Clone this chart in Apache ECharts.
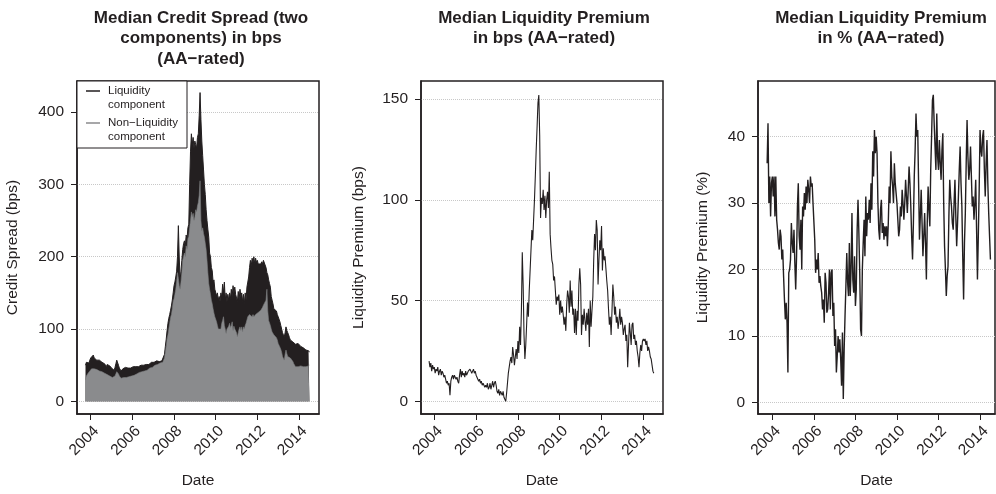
<!DOCTYPE html>
<html><head><meta charset="utf-8">
<script src="https://cdn.jsdelivr.net/npm/echarts@6/dist/echarts.min.js"></script>
<style>html,body{margin:0;padding:0;background:#fff;}#c{width:996px;height:494px;}</style>
</head><body><div id="c"></div><script>
// Observations: every half month, first one on 1 Oct 2003, last on 1 Jul 2014
const startYear = 2003, startMonth = 10;

// Panel 1: total median credit spread (top of black area) and non-liquidity component (grey), bps
const creditSpreadTotal = [
 50, 54, 52, 55, 53, 57,
 60, 58, 62, 64, 60, 58, 59, 57, 58, 55, 57, 56, 55, 54, 56, 53, 52, 50, 48, 51, 50, 52, 49, 47,
 46, 44, 45, 43, 47, 52, 57, 56, 50, 46, 44, 42, 44, 45, 46, 45, 47, 46, 47, 46, 48, 47, 46, 48,
 47, 48, 46, 47, 48, 47, 49, 48, 47, 49, 50, 49, 51, 50, 50, 52, 51, 50, 52, 51, 53, 52, 54, 53,
 53, 54, 55, 54, 56, 55, 54, 55, 56, 55, 56, 55, 58, 65, 76, 86, 98, 108, 115, 120, 126, 132, 140, 150,
 160, 165, 172, 180, 200, 243, 200, 168, 180, 195, 210, 218, 222, 215, 230, 225, 240, 245, 300, 345, 370, 355, 365, 350,
 360, 355, 350, 365, 370, 395, 427, 390, 360, 340, 320, 300, 286, 265, 250, 238, 227, 205, 200, 185, 181, 165, 168, 155,
 155, 146, 150, 140, 145, 138, 150, 144, 162, 150, 165, 140, 150, 138, 148, 140, 150, 142, 155, 145, 160, 150, 158, 148,
 150, 138, 152, 140, 155, 145, 150, 138, 148, 135, 150, 140, 158, 165, 172, 185, 195, 188, 198, 192, 200, 190, 198, 192,
 195, 190, 192, 188, 190, 193, 190, 195, 193, 195, 185, 178, 175, 168, 163, 158, 145, 140, 135, 128, 126, 130, 125, 120,
 117, 115, 110, 105, 100, 95, 92, 89, 95, 103, 98, 95, 92, 88, 85, 87, 85, 82, 80, 81, 79, 80, 78, 80,
 80, 78, 76, 77, 75, 74, 73, 72, 71, 70, 69, 70, 68
];
const nonLiquidity = [
 30, 35, 36, 39, 40, 42,
 43, 45, 44, 46, 45, 44, 43, 44, 42, 43, 42, 44, 42, 41, 42, 40, 39, 38, 38, 37, 36, 37, 35, 34,
 34, 33, 34, 33, 35, 37, 41, 42, 38, 35, 33, 32, 33, 34, 33, 34, 34, 33, 35, 34, 34, 35, 34, 35,
 35, 36, 36, 37, 38, 38, 39, 40, 40, 41, 42, 41, 43, 43, 42, 44, 44, 43, 45, 45, 46, 46, 47, 47,
 48, 49, 50, 50, 51, 51, 51, 52, 53, 53, 54, 54, 55, 60, 68, 76, 86, 92, 100, 108, 116, 120, 128, 138,
 142, 148, 155, 165, 178, 170, 160, 155, 165, 178, 195, 200, 205, 200, 215, 210, 225, 228, 240, 250, 262, 255, 260, 250,
 255, 265, 262, 270, 275, 285, 305, 250, 236, 240, 232, 227, 227, 210, 195, 178, 163, 155, 148, 140, 135, 128, 122, 117,
 115, 110, 105, 100, 98, 102, 100, 108, 112, 117, 105, 100, 94, 100, 98, 104, 108, 102, 105, 110, 98, 104, 100, 98,
 95, 89, 95, 100, 103, 98, 103, 96, 103, 100, 105, 108, 110, 117, 118, 120, 121, 118, 117, 120, 117, 115, 120, 118,
 121, 123, 125, 124, 126, 128, 130, 133, 135, 135, 140, 155, 125, 112, 110, 105, 100, 96, 94, 92, 94, 90, 88, 85,
 80, 78, 75, 72, 68, 62, 60, 57, 65, 71, 66, 62, 64, 62, 60, 62, 58, 55, 52, 50, 48, 50, 47, 48,
 48, 50, 49, 51, 50, 48, 49, 47, 48, 46, 47, 49, 50
];
// Panel 2: median liquidity premium, bps
const liquidityBps = [
 20, 17, 19, 15, 18, 16,
 17, 14, 16, 15, 17, 13, 15, 16, 13, 15, 14, 12, 13, 11, 9, 10, 8, 9, 3, 10, 12, 13, 11, 13,
 13, 11, 12, 10, 9, 13, 16, 12, 15, 13, 14, 12, 15, 13, 14, 15, 15, 16, 15, 14, 15, 16, 14, 15,
 13, 12, 11, 10, 11, 9, 10, 8, 9, 8, 7, 8, 7, 9, 6, 7, 9, 6, 8, 10, 7, 9, 10, 8,
 5, 4, 6, 3, 5, 4, 3, 5, 2, 1, 0, 4, 9, 14, 17, 20, 22, 19, 27, 23, 18, 22, 26, 21,
 30, 24, 37, 28, 45, 74, 58, 33, 21, 28, 38, 49, 42, 55, 65, 75, 85, 80, 90, 100, 112, 125, 136, 148,
 152, 132, 91, 101, 98, 105, 95, 102, 91, 100, 104, 96, 114, 83, 76, 70, 68, 60, 62, 55, 48, 52, 50, 53,
 43, 50, 44, 47, 43, 38, 42, 35, 48, 55, 52, 44, 60, 47, 55, 43, 46, 34, 46, 33, 45, 40, 58, 66,
 58, 33, 43, 38, 46, 40, 35, 44, 38, 46, 27, 50, 37, 45, 52, 70, 83, 75, 90, 85, 58, 70, 80, 75,
 87, 65, 76, 70, 72, 66, 60, 55, 46, 38, 42, 33, 45, 58, 52, 43, 47, 39, 42, 36, 40, 46, 38, 42,
 39, 33, 36, 38, 30, 33, 17, 28, 39, 34, 28, 38, 39, 31, 33, 28, 30, 25, 22, 17, 24, 28, 25, 30,
 31, 30, 31, 28, 30, 25, 27, 25, 22, 21, 18, 15, 14
];
// Panel 3: median liquidity premium, % of spread
const liquidityPct = [
 36, 42, 30, 34, 28, 33,
 34, 31, 34, 28, 34, 27.5, 26, 24, 23, 26, 25, 21.5, 23, 19, 15.5, 12.5, 15, 12, 4.5, 19.5, 20, 21.5, 27, 24,
 22.5, 26, 21, 17, 22, 29.5, 33, 25, 23, 27.5, 20, 29.5, 28, 31.5, 29, 32.5, 30, 33.5, 32, 30, 34, 32.5, 33, 30,
 30, 24.5, 19.5, 21.5, 20, 22.5, 18, 19, 17.5, 16.5, 14, 15.5, 12, 19.5, 18, 13.5, 14, 16.5, 20, 14, 19.5, 20, 13, 15,
 8.5, 11, 4.5, 7, 10, 7.5, 9.5, 6.5, 2.5, 10.5, 0.5, 8, 13, 17.5, 22.5, 18, 16, 24, 16, 20, 28.5, 18.5, 16.5, 22,
 14.5, 17, 26, 30.5, 25.5, 19.5, 11, 10, 20, 24, 27.5, 22, 31, 25, 28.5, 27.5, 30.5, 27, 33, 29, 37.8, 34, 41, 37.5,
 40, 37.5, 30, 26, 24.5, 29, 30.5, 25.5, 27, 24.5, 26.5, 25, 26.5, 23.5, 27, 32.5, 30, 37.8, 34, 32.5, 30, 36, 33, 31.5,
 30, 27.5, 25, 26, 29.5, 28, 32, 30, 27.5, 30, 33.5, 31, 28.5, 32, 35.5, 33, 29.5, 25, 21.5, 27, 34, 38, 43.5, 40,
 41, 33, 24.5, 28, 32, 27, 22, 25, 28.5, 24, 18.5, 27, 32.5, 29, 26.5, 35, 40, 45.5, 46.3, 42, 38.5, 35, 43.5, 37,
 35, 39.5, 36, 33.5, 38, 40.5, 30, 23.5, 20, 16, 19, 20.5, 28, 33.5, 31, 29.5, 27, 26, 30, 33.5, 28, 23.5, 27, 31,
 35, 38.5, 33, 29.5, 22, 15.5, 24, 28.5, 36, 42.5, 37, 33.5, 35, 38.5, 34, 29.5, 31, 27.5, 30, 33.5, 26, 18.5, 25, 32,
 41, 38, 37, 40, 41, 35, 31, 36, 39.5, 33, 28.5, 25, 21.5
];

const xTickYears = [2004, 2006, 2008, 2010, 2012, 2014];
const yTicks1 = [0, 100, 200, 300, 400];
const yTicks2 = [0, 50, 100, 150];
const yTicks3 = [0, 10, 20, 30, 40];

const titles = [
  'Median Credit Spread (two\ncomponents) in bps\n(AA\u2212rated)',
  'Median Liquidity Premium\nin bps (AA\u2212rated)',
  'Median Liquidity Premium\nin % (AA\u2212rated)'
];
const yNames = ['Credit Spread (bps)', 'Liquidity Premium (bps)', 'Liquidity Premium (%)'];
const legendNames = ['Liquidity component', 'Non\u2212Liquidity component'];

// decimal-year position of observation i
function obsDate(i) {
  const m = startMonth - 1 + Math.floor(i / 2);
  return startYear + Math.floor(m / 12) + ((m % 12) + (i % 2) * 0.5) / 12;
}
const pairs = arr => arr.map((v, i) => [obsDate(i), v]);

const INK = '#231f20';
const GREY = '#8a8b8d';
const FONT = '"Liberation Sans", Arial, Helvetica, sans-serif';

const grids = [
  { left: 77, top: 81, width: 242, height: 335 },
  { left: 421, top: 81, width: 242, height: 335 },
  { left: 758, top: 81, width: 237, height: 335 }
].map(g => Object.assign(g, { show: true, borderColor: INK, borderWidth: 1.5, backgroundColor: 'transparent' }));

const xRanges = [[2003.342, 2014.96], [2003.364, 2014.94], [2003.31, 2014.72]];
const yRanges = [[-17.46, 443.0], [-6.27, 159.0], [-1.75, 48.38]];
const yTickSets = [yTicks1, yTicks2, yTicks3];
const yNameGaps = [56, 54, 47];
const centers = [196, 539, 876];
const lineWidths = [1, 1.1, 1.4];

const xAxes = xRanges.map((r, k) => ({
  type: 'value', gridIndex: k, min: r[0], max: r[1],
  axisLine: { show: true, onZero: false, lineStyle: { color: INK, width: 1.5 } },
  axisTick: { show: true, inside: false, length: 6, customValues: xTickYears, lineStyle: { color: INK, width: 1 } },
  axisLabel: { customValues: xTickYears, rotate: 45, margin: 9, align: 'right', verticalAlign: 'top',
    fontSize: 15.5, color: INK, fontFamily: FONT, formatter: v => String(v) },
  splitLine: { show: false },
  name: 'Date', nameLocation: 'middle', nameGap: 59,
  nameTextStyle: { fontSize: 15.5, color: INK, fontFamily: FONT }
}));
const yAxes = yRanges.map((r, k) => ({
  type: 'value', gridIndex: k, min: r[0], max: r[1],
  axisLine: { show: true, onZero: false, lineStyle: { color: INK, width: 1.5 } },
  axisTick: { show: true, inside: false, length: 6, customValues: yTickSets[k], lineStyle: { color: INK, width: 1 } },
  axisLabel: { customValues: yTickSets[k], margin: 13, fontSize: 15.5, color: INK, fontFamily: FONT },
  splitLine: { show: true, lineStyle: { type: 'dotted', color: '#c8c8c8', width: 1 } },
  name: yNames[k], nameLocation: 'middle', nameRotate: 90, nameGap: yNameGaps[k],
  nameTextStyle: { fontSize: 15.5, color: INK, fontFamily: FONT }
}));

// short line at the height of the first text line; tiny corner marks fix the icon box size
const legendIcon = 'path://M0,6.2L14,6.2L14,7.8L0,7.8Z M0,0L0.01,0L0.01,0.01Z M17,28L16.99,28L16.99,27.99Z';

const option = {
  animation: false,
  backgroundColor: '#fff',
  title: titles.map((t, k) => ({
    text: t, left: centers[k], top: 3, textAlign: 'center',
    textStyle: { fontSize: 17, fontWeight: 'bold', lineHeight: 20.5, color: INK, fontFamily: FONT }
  })),
  grid: grids,
  xAxis: xAxes,
  yAxis: yAxes,
  legend: {
    left: 77, top: 81, orient: 'vertical', selectedMode: false,
    backgroundColor: '#fff', borderColor: INK, borderWidth: 1,
    padding: [3, 9, 4, 9], itemGap: 4, itemWidth: 17, itemHeight: 28,
    data: [
      { name: legendNames[0], icon: legendIcon, itemStyle: { color: INK } },
      { name: legendNames[1], icon: legendIcon, itemStyle: { color: GREY } }
    ],
    formatter: n => n.replace(' component', '\ncomponent'),
    textStyle: { fontSize: 11.5, lineHeight: 14, color: INK, fontFamily: FONT }
  },
  series: [
    { name: legendNames[0], type: 'line', xAxisIndex: 0, yAxisIndex: 0, data: pairs(creditSpreadTotal),
      symbol: 'none', lineStyle: { color: INK, width: 1 }, itemStyle: { color: INK },
      areaStyle: { color: INK, opacity: 1 }, z: 2 },
    { name: legendNames[1], type: 'line', xAxisIndex: 0, yAxisIndex: 0, data: pairs(nonLiquidity),
      symbol: 'none', lineStyle: { color: '#7c7d7f', width: 0.6 }, itemStyle: { color: GREY },
      areaStyle: { color: GREY, opacity: 1 }, z: 3 },
    { name: 'Liquidity Premium (bps)', type: 'line', xAxisIndex: 1, yAxisIndex: 1, data: pairs(liquidityBps),
      symbol: 'none', lineStyle: { color: INK, width: lineWidths[1] }, itemStyle: { color: INK } },
    { name: 'Liquidity Premium (%)', type: 'line', xAxisIndex: 2, yAxisIndex: 2, data: pairs(liquidityPct),
      symbol: 'none', lineStyle: { color: INK, width: lineWidths[2] }, itemStyle: { color: INK } }
  ]
};

const chart = echarts.init(document.getElementById('c'), null, { renderer: 'canvas' });
chart.setOption(option);
</script></body></html>
